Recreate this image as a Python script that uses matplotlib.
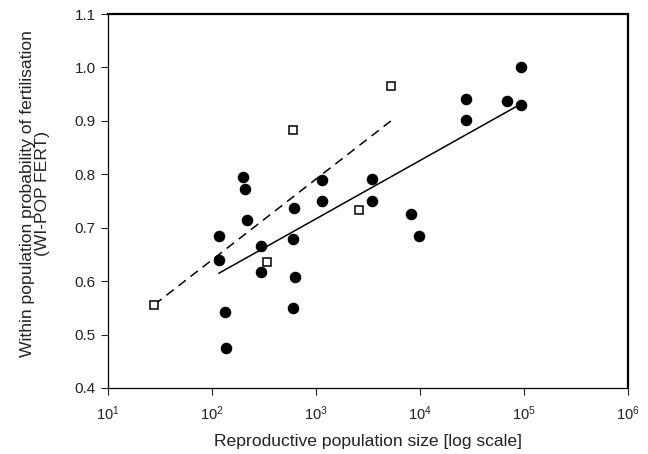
import numpy as np
import matplotlib
matplotlib.use("Agg")
import matplotlib.pyplot as plt

plt.rcParams['font.family'] = ['Liberation Sans', 'DejaVu Sans']
plt.rcParams['mathtext.fontset'] = 'custom'
plt.rcParams['mathtext.rm'] = 'Liberation Sans'

# filled circles
circ_x = [117, 117, 197, 207, 217, 296, 296, 132, 136, 597, 618, 624, 597,
          1143, 1150, 3430, 3430, 8150, 9840, 27500, 27500, 68700, 94200, 94200]
circ_y = [0.684, 0.639, 0.795, 0.773, 0.714, 0.666, 0.618, 0.542, 0.474, 0.678,
          0.736, 0.607, 0.550, 0.750, 0.789, 0.750, 0.792, 0.725, 0.684, 0.941,
          0.902, 0.938, 1.000, 0.929]

# open squares
sq_x = [27.9, 340, 597, 2590, 5260]
sq_y = [0.555, 0.635, 0.883, 0.734, 0.966]

# fitted lines (end points)
solid_x = [117, 94200]
solid_y = [0.615, 0.932]
dash_x = [27.9, 5260]
dash_y = [0.556, 0.900]

fig = plt.figure(figsize=(6.48, 4.54), dpi=100)
ax = fig.add_axes([0.1667, 0.1454, 0.8023, 0.8237])

ax.plot(dash_x, dash_y, color='black', lw=1.1, ls=(0, (6, 4)), zorder=2)
ax.plot(solid_x, solid_y, color='black', lw=1.1, zorder=2)
ax.plot(circ_x, circ_y, 'o', color='black', ms=7.3, zorder=3)
ax.plot(sq_x, sq_y, 's', mfc='white', mec='black', mew=1.1, ms=6.2, zorder=3)

ax.set_xscale('log')
ax.set_xlim(10, 1e6)
ax.set_ylim(0.4, 1.1)
ax.set_xticks([1e1, 1e2, 1e3, 1e4, 1e5, 1e6])
ax.set_xticklabels([r'$\mathregular{10^{%d}}$' % i for i in range(1, 7)])
ax.xaxis.set_minor_locator(matplotlib.ticker.NullLocator())
ax.set_yticks(np.arange(0.4, 1.11, 0.1))
ax.set_yticklabels(['%.1f' % v for v in np.arange(0.4, 1.11, 0.1)])
ax.tick_params(direction='out', length=5, width=0.8, colors='#222222')
ax.tick_params(axis='y', labelsize=11, pad=4)
ax.tick_params(axis='x', labelsize=10.5, pad=7)

for s in ['left', 'bottom']:
    ax.spines[s].set_linewidth(0.9)
for s in ['top', 'right']:
    ax.spines[s].set_linewidth(1.6)

ax.set_xlabel('Reproductive population size [log scale]', fontsize=12.6, color='#222222', labelpad=8)
ax.set_ylabel('Within population probability of fertilisation\n(WI-POP FERT)', fontsize=12.6,
              color='#222222', linespacing=1.0)
ax.yaxis.set_label_coords(-0.111, 0.52)

fig.savefig('out.png', dpi=100)
